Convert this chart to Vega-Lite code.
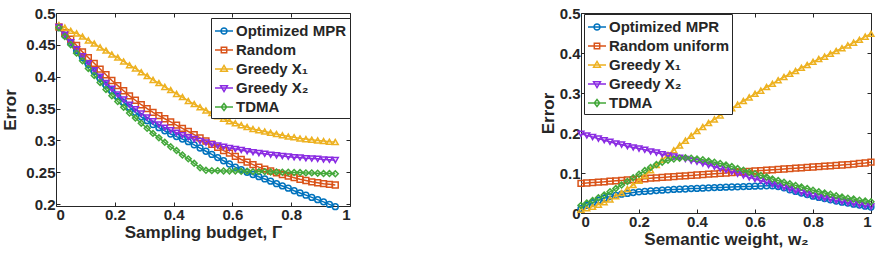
{
  "$schema": "https://vega.github.io/schema/vega-lite/v6.json",
  "padding": {"left": 1, "top": 5, "right": 0, "bottom": 0},
  "spacing": 187,
  "datasets": {
    "L": [
      {"s":"Optimized MPR","x":0.01,"y":0.477},{"s":"Optimized MPR","x":0.03,"y":0.465},{"s":"Optimized MPR","x":0.05,"y":0.453},{"s":"Optimized MPR","x":0.07,"y":0.441},{"s":"Optimized MPR","x":0.09,"y":0.430},{"s":"Optimized MPR","x":0.11,"y":0.419},{"s":"Optimized MPR","x":0.13,"y":0.408},{"s":"Optimized MPR","x":0.15,"y":0.397},{"s":"Optimized MPR","x":0.17,"y":0.387},{"s":"Optimized MPR","x":0.19,"y":0.378},{"s":"Optimized MPR","x":0.21,"y":0.369},{"s":"Optimized MPR","x":0.23,"y":0.360},{"s":"Optimized MPR","x":0.25,"y":0.352},{"s":"Optimized MPR","x":0.27,"y":0.344},{"s":"Optimized MPR","x":0.29,"y":0.337},{"s":"Optimized MPR","x":0.31,"y":0.331},{"s":"Optimized MPR","x":0.33,"y":0.325},{"s":"Optimized MPR","x":0.35,"y":0.320},{"s":"Optimized MPR","x":0.37,"y":0.315},{"s":"Optimized MPR","x":0.39,"y":0.310},{"s":"Optimized MPR","x":0.41,"y":0.306},{"s":"Optimized MPR","x":0.43,"y":0.302},{"s":"Optimized MPR","x":0.45,"y":0.298},{"s":"Optimized MPR","x":0.47,"y":0.293},{"s":"Optimized MPR","x":0.49,"y":0.288},{"s":"Optimized MPR","x":0.51,"y":0.283},{"s":"Optimized MPR","x":0.53,"y":0.278},{"s":"Optimized MPR","x":0.55,"y":0.273},{"s":"Optimized MPR","x":0.57,"y":0.268},{"s":"Optimized MPR","x":0.59,"y":0.263},{"s":"Optimized MPR","x":0.61,"y":0.258},{"s":"Optimized MPR","x":0.63,"y":0.254},{"s":"Optimized MPR","x":0.65,"y":0.250},{"s":"Optimized MPR","x":0.67,"y":0.2465},{"s":"Optimized MPR","x":0.69,"y":0.243},{"s":"Optimized MPR","x":0.71,"y":0.2395},{"s":"Optimized MPR","x":0.73,"y":0.236},{"s":"Optimized MPR","x":0.75,"y":0.232},{"s":"Optimized MPR","x":0.77,"y":0.2285},{"s":"Optimized MPR","x":0.79,"y":0.225},{"s":"Optimized MPR","x":0.81,"y":0.221},{"s":"Optimized MPR","x":0.83,"y":0.2175},{"s":"Optimized MPR","x":0.85,"y":0.214},{"s":"Optimized MPR","x":0.87,"y":0.2105},{"s":"Optimized MPR","x":0.89,"y":0.207},{"s":"Optimized MPR","x":0.91,"y":0.2035},{"s":"Optimized MPR","x":0.93,"y":0.1995},{"s":"Optimized MPR","x":0.95,"y":0.196},
      {"s":"Random","x":0.01,"y":0.478},{"s":"Random","x":0.03,"y":0.469},{"s":"Random","x":0.05,"y":0.459},{"s":"Random","x":0.07,"y":0.449},{"s":"Random","x":0.09,"y":0.439},{"s":"Random","x":0.11,"y":0.430},{"s":"Random","x":0.13,"y":0.421},{"s":"Random","x":0.15,"y":0.412},{"s":"Random","x":0.17,"y":0.403},{"s":"Random","x":0.19,"y":0.394},{"s":"Random","x":0.21,"y":0.386},{"s":"Random","x":0.23,"y":0.378},{"s":"Random","x":0.25,"y":0.370},{"s":"Random","x":0.27,"y":0.363},{"s":"Random","x":0.29,"y":0.356},{"s":"Random","x":0.31,"y":0.350},{"s":"Random","x":0.33,"y":0.344},{"s":"Random","x":0.35,"y":0.339},{"s":"Random","x":0.37,"y":0.334},{"s":"Random","x":0.39,"y":0.329},{"s":"Random","x":0.41,"y":0.324},{"s":"Random","x":0.43,"y":0.319},{"s":"Random","x":0.45,"y":0.314},{"s":"Random","x":0.47,"y":0.309},{"s":"Random","x":0.49,"y":0.304},{"s":"Random","x":0.51,"y":0.299},{"s":"Random","x":0.53,"y":0.294},{"s":"Random","x":0.55,"y":0.289},{"s":"Random","x":0.57,"y":0.284},{"s":"Random","x":0.59,"y":0.280},{"s":"Random","x":0.61,"y":0.275},{"s":"Random","x":0.63,"y":0.270},{"s":"Random","x":0.65,"y":0.266},{"s":"Random","x":0.67,"y":0.262},{"s":"Random","x":0.69,"y":0.258},{"s":"Random","x":0.71,"y":0.255},{"s":"Random","x":0.73,"y":0.252},{"s":"Random","x":0.75,"y":0.249},{"s":"Random","x":0.77,"y":0.2465},{"s":"Random","x":0.79,"y":0.244},{"s":"Random","x":0.81,"y":0.2415},{"s":"Random","x":0.83,"y":0.239},{"s":"Random","x":0.85,"y":0.237},{"s":"Random","x":0.87,"y":0.235},{"s":"Random","x":0.89,"y":0.2335},{"s":"Random","x":0.91,"y":0.232},{"s":"Random","x":0.93,"y":0.231},{"s":"Random","x":0.95,"y":0.230},
      {"s":"Greedy X₁","x":0.01,"y":0.481},{"s":"Greedy X₁","x":0.03,"y":0.477},{"s":"Greedy X₁","x":0.05,"y":0.472},{"s":"Greedy X₁","x":0.07,"y":0.468},{"s":"Greedy X₁","x":0.09,"y":0.463},{"s":"Greedy X₁","x":0.11,"y":0.457},{"s":"Greedy X₁","x":0.13,"y":0.452},{"s":"Greedy X₁","x":0.15,"y":0.446},{"s":"Greedy X₁","x":0.17,"y":0.441},{"s":"Greedy X₁","x":0.19,"y":0.435},{"s":"Greedy X₁","x":0.21,"y":0.430},{"s":"Greedy X₁","x":0.23,"y":0.424},{"s":"Greedy X₁","x":0.25,"y":0.418},{"s":"Greedy X₁","x":0.27,"y":0.413},{"s":"Greedy X₁","x":0.29,"y":0.407},{"s":"Greedy X₁","x":0.31,"y":0.401},{"s":"Greedy X₁","x":0.33,"y":0.395},{"s":"Greedy X₁","x":0.35,"y":0.390},{"s":"Greedy X₁","x":0.37,"y":0.384},{"s":"Greedy X₁","x":0.39,"y":0.379},{"s":"Greedy X₁","x":0.41,"y":0.373},{"s":"Greedy X₁","x":0.43,"y":0.368},{"s":"Greedy X₁","x":0.45,"y":0.362},{"s":"Greedy X₁","x":0.47,"y":0.357},{"s":"Greedy X₁","x":0.49,"y":0.352},{"s":"Greedy X₁","x":0.51,"y":0.347},{"s":"Greedy X₁","x":0.53,"y":0.343},{"s":"Greedy X₁","x":0.55,"y":0.338},{"s":"Greedy X₁","x":0.57,"y":0.334},{"s":"Greedy X₁","x":0.59,"y":0.330},{"s":"Greedy X₁","x":0.61,"y":0.327},{"s":"Greedy X₁","x":0.63,"y":0.324},{"s":"Greedy X₁","x":0.65,"y":0.321},{"s":"Greedy X₁","x":0.67,"y":0.318},{"s":"Greedy X₁","x":0.69,"y":0.316},{"s":"Greedy X₁","x":0.71,"y":0.314},{"s":"Greedy X₁","x":0.73,"y":0.312},{"s":"Greedy X₁","x":0.75,"y":0.310},{"s":"Greedy X₁","x":0.77,"y":0.308},{"s":"Greedy X₁","x":0.79,"y":0.306},{"s":"Greedy X₁","x":0.81,"y":0.305},{"s":"Greedy X₁","x":0.83,"y":0.303},{"s":"Greedy X₁","x":0.85,"y":0.302},{"s":"Greedy X₁","x":0.87,"y":0.301},{"s":"Greedy X₁","x":0.89,"y":0.300},{"s":"Greedy X₁","x":0.91,"y":0.299},{"s":"Greedy X₁","x":0.93,"y":0.298},{"s":"Greedy X₁","x":0.95,"y":0.2975},
      {"s":"Greedy X₂","x":0.01,"y":0.478},{"s":"Greedy X₂","x":0.03,"y":0.466},{"s":"Greedy X₂","x":0.05,"y":0.454},{"s":"Greedy X₂","x":0.07,"y":0.443},{"s":"Greedy X₂","x":0.09,"y":0.432},{"s":"Greedy X₂","x":0.11,"y":0.421},{"s":"Greedy X₂","x":0.13,"y":0.410},{"s":"Greedy X₂","x":0.15,"y":0.400},{"s":"Greedy X₂","x":0.17,"y":0.390},{"s":"Greedy X₂","x":0.19,"y":0.381},{"s":"Greedy X₂","x":0.21,"y":0.372},{"s":"Greedy X₂","x":0.23,"y":0.364},{"s":"Greedy X₂","x":0.25,"y":0.356},{"s":"Greedy X₂","x":0.27,"y":0.349},{"s":"Greedy X₂","x":0.29,"y":0.342},{"s":"Greedy X₂","x":0.31,"y":0.336},{"s":"Greedy X₂","x":0.33,"y":0.330},{"s":"Greedy X₂","x":0.35,"y":0.325},{"s":"Greedy X₂","x":0.37,"y":0.320},{"s":"Greedy X₂","x":0.39,"y":0.316},{"s":"Greedy X₂","x":0.41,"y":0.312},{"s":"Greedy X₂","x":0.43,"y":0.308},{"s":"Greedy X₂","x":0.45,"y":0.305},{"s":"Greedy X₂","x":0.47,"y":0.302},{"s":"Greedy X₂","x":0.49,"y":0.299},{"s":"Greedy X₂","x":0.51,"y":0.2965},{"s":"Greedy X₂","x":0.53,"y":0.294},{"s":"Greedy X₂","x":0.55,"y":0.292},{"s":"Greedy X₂","x":0.57,"y":0.290},{"s":"Greedy X₂","x":0.59,"y":0.288},{"s":"Greedy X₂","x":0.61,"y":0.2865},{"s":"Greedy X₂","x":0.63,"y":0.285},{"s":"Greedy X₂","x":0.65,"y":0.283},{"s":"Greedy X₂","x":0.67,"y":0.2815},{"s":"Greedy X₂","x":0.69,"y":0.280},{"s":"Greedy X₂","x":0.71,"y":0.279},{"s":"Greedy X₂","x":0.73,"y":0.2775},{"s":"Greedy X₂","x":0.75,"y":0.2765},{"s":"Greedy X₂","x":0.77,"y":0.2755},{"s":"Greedy X₂","x":0.79,"y":0.2745},{"s":"Greedy X₂","x":0.81,"y":0.2735},{"s":"Greedy X₂","x":0.83,"y":0.273},{"s":"Greedy X₂","x":0.85,"y":0.272},{"s":"Greedy X₂","x":0.87,"y":0.2715},{"s":"Greedy X₂","x":0.89,"y":0.271},{"s":"Greedy X₂","x":0.91,"y":0.270},{"s":"Greedy X₂","x":0.93,"y":0.2695},{"s":"Greedy X₂","x":0.95,"y":0.269},
      {"s":"TDMA","x":0.01,"y":0.477},{"s":"TDMA","x":0.03,"y":0.463},{"s":"TDMA","x":0.05,"y":0.450},{"s":"TDMA","x":0.07,"y":0.437},{"s":"TDMA","x":0.09,"y":0.425},{"s":"TDMA","x":0.11,"y":0.413},{"s":"TDMA","x":0.13,"y":0.402},{"s":"TDMA","x":0.15,"y":0.391},{"s":"TDMA","x":0.17,"y":0.380},{"s":"TDMA","x":0.19,"y":0.370},{"s":"TDMA","x":0.21,"y":0.361},{"s":"TDMA","x":0.23,"y":0.352},{"s":"TDMA","x":0.25,"y":0.343},{"s":"TDMA","x":0.27,"y":0.335},{"s":"TDMA","x":0.29,"y":0.327},{"s":"TDMA","x":0.31,"y":0.319},{"s":"TDMA","x":0.33,"y":0.311},{"s":"TDMA","x":0.35,"y":0.304},{"s":"TDMA","x":0.37,"y":0.297},{"s":"TDMA","x":0.39,"y":0.290},{"s":"TDMA","x":0.41,"y":0.284},{"s":"TDMA","x":0.43,"y":0.277},{"s":"TDMA","x":0.45,"y":0.271},{"s":"TDMA","x":0.47,"y":0.264},{"s":"TDMA","x":0.49,"y":0.257},{"s":"TDMA","x":0.51,"y":0.253},{"s":"TDMA","x":0.53,"y":0.2525},{"s":"TDMA","x":0.55,"y":0.2525},{"s":"TDMA","x":0.57,"y":0.252},{"s":"TDMA","x":0.59,"y":0.252},{"s":"TDMA","x":0.61,"y":0.252},{"s":"TDMA","x":0.63,"y":0.2515},{"s":"TDMA","x":0.65,"y":0.2515},{"s":"TDMA","x":0.67,"y":0.251},{"s":"TDMA","x":0.69,"y":0.251},{"s":"TDMA","x":0.71,"y":0.251},{"s":"TDMA","x":0.73,"y":0.2505},{"s":"TDMA","x":0.75,"y":0.2505},{"s":"TDMA","x":0.77,"y":0.250},{"s":"TDMA","x":0.79,"y":0.250},{"s":"TDMA","x":0.81,"y":0.2495},{"s":"TDMA","x":0.83,"y":0.2495},{"s":"TDMA","x":0.85,"y":0.249},{"s":"TDMA","x":0.87,"y":0.249},{"s":"TDMA","x":0.89,"y":0.2485},{"s":"TDMA","x":0.91,"y":0.248},{"s":"TDMA","x":0.93,"y":0.248},{"s":"TDMA","x":0.95,"y":0.2475}
    ],
    "R": [
      {"s":"Optimized MPR","x":0,"y":0.011},{"s":"Optimized MPR","x":0.02,"y":0.019},{"s":"Optimized MPR","x":0.04,"y":0.026},{"s":"Optimized MPR","x":0.06,"y":0.032},{"s":"Optimized MPR","x":0.08,"y":0.037},{"s":"Optimized MPR","x":0.1,"y":0.041},{"s":"Optimized MPR","x":0.12,"y":0.044},{"s":"Optimized MPR","x":0.14,"y":0.047},{"s":"Optimized MPR","x":0.16,"y":0.049},{"s":"Optimized MPR","x":0.18,"y":0.051},{"s":"Optimized MPR","x":0.2,"y":0.053},{"s":"Optimized MPR","x":0.22,"y":0.054},{"s":"Optimized MPR","x":0.24,"y":0.055},{"s":"Optimized MPR","x":0.26,"y":0.056},{"s":"Optimized MPR","x":0.28,"y":0.057},{"s":"Optimized MPR","x":0.3,"y":0.058},{"s":"Optimized MPR","x":0.32,"y":0.059},{"s":"Optimized MPR","x":0.34,"y":0.0595},{"s":"Optimized MPR","x":0.36,"y":0.060},{"s":"Optimized MPR","x":0.38,"y":0.061},{"s":"Optimized MPR","x":0.4,"y":0.0615},{"s":"Optimized MPR","x":0.42,"y":0.062},{"s":"Optimized MPR","x":0.44,"y":0.063},{"s":"Optimized MPR","x":0.46,"y":0.0635},{"s":"Optimized MPR","x":0.48,"y":0.064},{"s":"Optimized MPR","x":0.5,"y":0.0645},{"s":"Optimized MPR","x":0.52,"y":0.065},{"s":"Optimized MPR","x":0.54,"y":0.0655},{"s":"Optimized MPR","x":0.56,"y":0.066},{"s":"Optimized MPR","x":0.58,"y":0.0665},{"s":"Optimized MPR","x":0.6,"y":0.067},{"s":"Optimized MPR","x":0.62,"y":0.0675},{"s":"Optimized MPR","x":0.64,"y":0.068},{"s":"Optimized MPR","x":0.66,"y":0.068},{"s":"Optimized MPR","x":0.68,"y":0.066},{"s":"Optimized MPR","x":0.7,"y":0.063},{"s":"Optimized MPR","x":0.72,"y":0.058},{"s":"Optimized MPR","x":0.74,"y":0.054},{"s":"Optimized MPR","x":0.76,"y":0.050},{"s":"Optimized MPR","x":0.78,"y":0.046},{"s":"Optimized MPR","x":0.8,"y":0.042},{"s":"Optimized MPR","x":0.82,"y":0.039},{"s":"Optimized MPR","x":0.84,"y":0.036},{"s":"Optimized MPR","x":0.86,"y":0.033},{"s":"Optimized MPR","x":0.88,"y":0.030},{"s":"Optimized MPR","x":0.9,"y":0.027},{"s":"Optimized MPR","x":0.92,"y":0.025},{"s":"Optimized MPR","x":0.94,"y":0.022},{"s":"Optimized MPR","x":0.96,"y":0.020},{"s":"Optimized MPR","x":0.98,"y":0.017},{"s":"Optimized MPR","x":1,"y":0.015},
      {"s":"Random uniform","x":0,"y":0.074},{"s":"Random uniform","x":0.02,"y":0.075},{"s":"Random uniform","x":0.04,"y":0.076},{"s":"Random uniform","x":0.06,"y":0.077},{"s":"Random uniform","x":0.08,"y":0.078},{"s":"Random uniform","x":0.1,"y":0.0795},{"s":"Random uniform","x":0.12,"y":0.0805},{"s":"Random uniform","x":0.14,"y":0.0815},{"s":"Random uniform","x":0.16,"y":0.0825},{"s":"Random uniform","x":0.18,"y":0.0835},{"s":"Random uniform","x":0.2,"y":0.0845},{"s":"Random uniform","x":0.22,"y":0.0855},{"s":"Random uniform","x":0.24,"y":0.087},{"s":"Random uniform","x":0.26,"y":0.088},{"s":"Random uniform","x":0.28,"y":0.089},{"s":"Random uniform","x":0.3,"y":0.090},{"s":"Random uniform","x":0.32,"y":0.091},{"s":"Random uniform","x":0.34,"y":0.092},{"s":"Random uniform","x":0.36,"y":0.093},{"s":"Random uniform","x":0.38,"y":0.094},{"s":"Random uniform","x":0.4,"y":0.095},{"s":"Random uniform","x":0.42,"y":0.096},{"s":"Random uniform","x":0.44,"y":0.097},{"s":"Random uniform","x":0.46,"y":0.098},{"s":"Random uniform","x":0.48,"y":0.099},{"s":"Random uniform","x":0.5,"y":0.100},{"s":"Random uniform","x":0.52,"y":0.101},{"s":"Random uniform","x":0.54,"y":0.102},{"s":"Random uniform","x":0.56,"y":0.103},{"s":"Random uniform","x":0.58,"y":0.104},{"s":"Random uniform","x":0.6,"y":0.105},{"s":"Random uniform","x":0.62,"y":0.106},{"s":"Random uniform","x":0.64,"y":0.107},{"s":"Random uniform","x":0.66,"y":0.108},{"s":"Random uniform","x":0.68,"y":0.109},{"s":"Random uniform","x":0.7,"y":0.110},{"s":"Random uniform","x":0.72,"y":0.111},{"s":"Random uniform","x":0.74,"y":0.112},{"s":"Random uniform","x":0.76,"y":0.113},{"s":"Random uniform","x":0.78,"y":0.114},{"s":"Random uniform","x":0.8,"y":0.115},{"s":"Random uniform","x":0.82,"y":0.116},{"s":"Random uniform","x":0.84,"y":0.117},{"s":"Random uniform","x":0.86,"y":0.118},{"s":"Random uniform","x":0.88,"y":0.119},{"s":"Random uniform","x":0.9,"y":0.120},{"s":"Random uniform","x":0.92,"y":0.121},{"s":"Random uniform","x":0.94,"y":0.122},{"s":"Random uniform","x":0.96,"y":0.124},{"s":"Random uniform","x":0.98,"y":0.125},{"s":"Random uniform","x":1,"y":0.127},
      {"s":"Greedy X₁","x":0,"y":0.008},{"s":"Greedy X₁","x":0.02,"y":0.012},{"s":"Greedy X₁","x":0.04,"y":0.016},{"s":"Greedy X₁","x":0.06,"y":0.021},{"s":"Greedy X₁","x":0.08,"y":0.027},{"s":"Greedy X₁","x":0.1,"y":0.034},{"s":"Greedy X₁","x":0.12,"y":0.042},{"s":"Greedy X₁","x":0.14,"y":0.050},{"s":"Greedy X₁","x":0.16,"y":0.060},{"s":"Greedy X₁","x":0.18,"y":0.070},{"s":"Greedy X₁","x":0.2,"y":0.081},{"s":"Greedy X₁","x":0.22,"y":0.094},{"s":"Greedy X₁","x":0.24,"y":0.107},{"s":"Greedy X₁","x":0.26,"y":0.120},{"s":"Greedy X₁","x":0.28,"y":0.133},{"s":"Greedy X₁","x":0.3,"y":0.145},{"s":"Greedy X₁","x":0.32,"y":0.157},{"s":"Greedy X₁","x":0.34,"y":0.169},{"s":"Greedy X₁","x":0.36,"y":0.181},{"s":"Greedy X₁","x":0.38,"y":0.193},{"s":"Greedy X₁","x":0.4,"y":0.205},{"s":"Greedy X₁","x":0.42,"y":0.215},{"s":"Greedy X₁","x":0.44,"y":0.225},{"s":"Greedy X₁","x":0.46,"y":0.234},{"s":"Greedy X₁","x":0.48,"y":0.244},{"s":"Greedy X₁","x":0.5,"y":0.253},{"s":"Greedy X₁","x":0.52,"y":0.262},{"s":"Greedy X₁","x":0.54,"y":0.271},{"s":"Greedy X₁","x":0.56,"y":0.280},{"s":"Greedy X₁","x":0.58,"y":0.289},{"s":"Greedy X₁","x":0.6,"y":0.298},{"s":"Greedy X₁","x":0.62,"y":0.306},{"s":"Greedy X₁","x":0.64,"y":0.315},{"s":"Greedy X₁","x":0.66,"y":0.323},{"s":"Greedy X₁","x":0.68,"y":0.332},{"s":"Greedy X₁","x":0.7,"y":0.340},{"s":"Greedy X₁","x":0.72,"y":0.348},{"s":"Greedy X₁","x":0.74,"y":0.355},{"s":"Greedy X₁","x":0.76,"y":0.363},{"s":"Greedy X₁","x":0.78,"y":0.370},{"s":"Greedy X₁","x":0.8,"y":0.378},{"s":"Greedy X₁","x":0.82,"y":0.385},{"s":"Greedy X₁","x":0.84,"y":0.391},{"s":"Greedy X₁","x":0.86,"y":0.398},{"s":"Greedy X₁","x":0.88,"y":0.405},{"s":"Greedy X₁","x":0.9,"y":0.412},{"s":"Greedy X₁","x":0.92,"y":0.419},{"s":"Greedy X₁","x":0.94,"y":0.426},{"s":"Greedy X₁","x":0.96,"y":0.433},{"s":"Greedy X₁","x":0.98,"y":0.441},{"s":"Greedy X₁","x":1,"y":0.448},
      {"s":"Greedy X₂","x":0,"y":0.198},{"s":"Greedy X₂","x":0.02,"y":0.194},{"s":"Greedy X₂","x":0.04,"y":0.190},{"s":"Greedy X₂","x":0.06,"y":0.186},{"s":"Greedy X₂","x":0.08,"y":0.182},{"s":"Greedy X₂","x":0.1,"y":0.178},{"s":"Greedy X₂","x":0.12,"y":0.174},{"s":"Greedy X₂","x":0.14,"y":0.171},{"s":"Greedy X₂","x":0.16,"y":0.167},{"s":"Greedy X₂","x":0.18,"y":0.164},{"s":"Greedy X₂","x":0.2,"y":0.161},{"s":"Greedy X₂","x":0.22,"y":0.158},{"s":"Greedy X₂","x":0.24,"y":0.154},{"s":"Greedy X₂","x":0.26,"y":0.151},{"s":"Greedy X₂","x":0.28,"y":0.147},{"s":"Greedy X₂","x":0.3,"y":0.144},{"s":"Greedy X₂","x":0.32,"y":0.141},{"s":"Greedy X₂","x":0.34,"y":0.138},{"s":"Greedy X₂","x":0.36,"y":0.135},{"s":"Greedy X₂","x":0.38,"y":0.131},{"s":"Greedy X₂","x":0.4,"y":0.128},{"s":"Greedy X₂","x":0.42,"y":0.124},{"s":"Greedy X₂","x":0.44,"y":0.120},{"s":"Greedy X₂","x":0.46,"y":0.116},{"s":"Greedy X₂","x":0.48,"y":0.111},{"s":"Greedy X₂","x":0.5,"y":0.107},{"s":"Greedy X₂","x":0.52,"y":0.103},{"s":"Greedy X₂","x":0.54,"y":0.098},{"s":"Greedy X₂","x":0.56,"y":0.094},{"s":"Greedy X₂","x":0.58,"y":0.089},{"s":"Greedy X₂","x":0.6,"y":0.085},{"s":"Greedy X₂","x":0.62,"y":0.081},{"s":"Greedy X₂","x":0.64,"y":0.077},{"s":"Greedy X₂","x":0.66,"y":0.072},{"s":"Greedy X₂","x":0.68,"y":0.068},{"s":"Greedy X₂","x":0.7,"y":0.064},{"s":"Greedy X₂","x":0.72,"y":0.060},{"s":"Greedy X₂","x":0.74,"y":0.055},{"s":"Greedy X₂","x":0.76,"y":0.051},{"s":"Greedy X₂","x":0.78,"y":0.047},{"s":"Greedy X₂","x":0.8,"y":0.043},{"s":"Greedy X₂","x":0.82,"y":0.040},{"s":"Greedy X₂","x":0.84,"y":0.037},{"s":"Greedy X₂","x":0.86,"y":0.034},{"s":"Greedy X₂","x":0.88,"y":0.031},{"s":"Greedy X₂","x":0.9,"y":0.028},{"s":"Greedy X₂","x":0.92,"y":0.026},{"s":"Greedy X₂","x":0.94,"y":0.023},{"s":"Greedy X₂","x":0.96,"y":0.021},{"s":"Greedy X₂","x":0.98,"y":0.018},{"s":"Greedy X₂","x":1,"y":0.016},
      {"s":"TDMA","x":0,"y":0.019},{"s":"TDMA","x":0.02,"y":0.025},{"s":"TDMA","x":0.04,"y":0.031},{"s":"TDMA","x":0.06,"y":0.038},{"s":"TDMA","x":0.08,"y":0.045},{"s":"TDMA","x":0.1,"y":0.053},{"s":"TDMA","x":0.12,"y":0.061},{"s":"TDMA","x":0.14,"y":0.070},{"s":"TDMA","x":0.16,"y":0.079},{"s":"TDMA","x":0.18,"y":0.088},{"s":"TDMA","x":0.2,"y":0.097},{"s":"TDMA","x":0.22,"y":0.106},{"s":"TDMA","x":0.24,"y":0.114},{"s":"TDMA","x":0.26,"y":0.121},{"s":"TDMA","x":0.28,"y":0.127},{"s":"TDMA","x":0.3,"y":0.132},{"s":"TDMA","x":0.32,"y":0.135},{"s":"TDMA","x":0.34,"y":0.137},{"s":"TDMA","x":0.36,"y":0.138},{"s":"TDMA","x":0.38,"y":0.137},{"s":"TDMA","x":0.4,"y":0.135},{"s":"TDMA","x":0.42,"y":0.133},{"s":"TDMA","x":0.44,"y":0.130},{"s":"TDMA","x":0.46,"y":0.127},{"s":"TDMA","x":0.48,"y":0.124},{"s":"TDMA","x":0.5,"y":0.120},{"s":"TDMA","x":0.52,"y":0.116},{"s":"TDMA","x":0.54,"y":0.111},{"s":"TDMA","x":0.56,"y":0.107},{"s":"TDMA","x":0.58,"y":0.102},{"s":"TDMA","x":0.6,"y":0.098},{"s":"TDMA","x":0.62,"y":0.094},{"s":"TDMA","x":0.64,"y":0.090},{"s":"TDMA","x":0.66,"y":0.085},{"s":"TDMA","x":0.68,"y":0.081},{"s":"TDMA","x":0.7,"y":0.077},{"s":"TDMA","x":0.72,"y":0.073},{"s":"TDMA","x":0.74,"y":0.069},{"s":"TDMA","x":0.76,"y":0.065},{"s":"TDMA","x":0.78,"y":0.061},{"s":"TDMA","x":0.8,"y":0.057},{"s":"TDMA","x":0.82,"y":0.053},{"s":"TDMA","x":0.84,"y":0.050},{"s":"TDMA","x":0.86,"y":0.047},{"s":"TDMA","x":0.88,"y":0.043},{"s":"TDMA","x":0.9,"y":0.040},{"s":"TDMA","x":0.92,"y":0.037},{"s":"TDMA","x":0.94,"y":0.035},{"s":"TDMA","x":0.96,"y":0.032},{"s":"TDMA","x":0.98,"y":0.030},{"s":"TDMA","x":1,"y":0.028}
    ]
  },
  "hconcat": [
    {
      "width": 294,
      "height": 193,
      "data": {"name": "L"},
      "encoding": {
        "x": {"field": "x", "type": "quantitative", "scale": {"domain": [0, 1], "nice": false}},
        "y": {"field": "y", "type": "quantitative", "scale": {"domain": [0.197, 0.5], "nice": false, "zero": false}}
      },
      "layer": [
        {
          "mark": {"type": "line", "strokeWidth": 1.5, "clip": true},
          "encoding": {
            "x": {"field": "x", "type": "quantitative", "axis": {"orient": "bottom", "values": [0, 0.2, 0.4, 0.6, 0.8, 1], "format": "~g", "title": "Sampling budget, Γ", "titlePadding": 2}},
            "y": {"field": "y", "type": "quantitative", "axis": {"orient": "left", "values": [0.2, 0.25, 0.3, 0.35, 0.4, 0.45, 0.5], "format": "~g", "title": "Error", "titlePadding": 6}},
            "color": {"field": "s", "type": "nominal", "scale": {"domain": ["Optimized MPR", "Random", "Greedy X₁", "Greedy X₂", "TDMA"], "range": ["#0072BD", "#D95319", "#EDB120", "#8A2BE2", "#43A83A"]}, "legend": null}
          }
        },
        {
          "mark": {"type": "point", "filled": false, "size": 34, "strokeWidth": 1.5, "opacity": 1},
          "encoding": {
            "x": {"field": "x", "type": "quantitative", "axis": {"orient": "top", "values": [0, 0.2, 0.4, 0.6, 0.8, 1], "labels": false, "title": null}},
            "y": {"field": "y", "type": "quantitative", "axis": {"orient": "right", "values": [0.2, 0.25, 0.3, 0.35, 0.4, 0.45, 0.5], "labels": false, "title": null}},
            "color": {"field": "s", "type": "nominal", "scale": {"domain": ["Optimized MPR", "Random", "Greedy X₁", "Greedy X₂", "TDMA"], "range": ["#0072BD", "#D95319", "#EDB120", "#8A2BE2", "#43A83A"]}, "legend": null},
            "shape": {"field": "s", "type": "nominal", "scale": {"domain": ["Optimized MPR", "Random", "Greedy X₁", "Greedy X₂", "TDMA"], "range": ["circle", "square", "triangle-up", "triangle-down", "diamond"]}, "legend": null}
          }
        },
        {
          "mark": {"type": "point", "filled": false, "opacity": 0},
          "encoding": {
            "x": {"field": "x", "type": "quantitative", "axis": null},
            "y": {"field": "y", "type": "quantitative", "axis": null},
            "color": {"field": "s", "type": "nominal", "scale": {"domain": ["Optimized MPR", "Random", "Greedy X₁", "Greedy X₂", "TDMA"], "range": ["#0072BD", "#D95319", "#EDB120", "#8A2BE2", "#43A83A"]},
              "legend": {"orient": "none", "legendX": 155, "legendY": 5, "title": null, "padding": 3, "rowPadding": 1, "labelOffset": 2, "symbolSize": 324, "symbolStrokeWidth": 1.5, "symbolOpacity": 1}},
            "shape": {"field": "s", "type": "nominal", "scale": {"domain": ["Optimized MPR", "Random", "Greedy X₁", "Greedy X₂", "TDMA"], "range": ["M-1,0H1M0.33,0A0.33,0.33,0,1,1,-0.33,0A0.33,0.33,0,1,1,0.33,0Z", "M-1,0H1M-0.3,-0.3H0.3V0.3H-0.3Z", "M-1,0H1M0,-0.4L0.38,0.26L-0.38,0.26Z", "M-1,0H1M0,0.4L0.38,-0.26L-0.38,-0.26Z", "M-1,0H1M0,-0.38L0.3,0L0,0.38L-0.3,0Z"]},
              "legend": {"orient": "none", "legendX": 155, "legendY": 5, "title": null, "padding": 3, "rowPadding": 1, "labelOffset": 2, "symbolSize": 324, "symbolStrokeWidth": 1.5, "symbolOpacity": 1}}
          }
        }
      ],
      "resolve": {"axis": {"x": "independent", "y": "independent"}, "scale": {"color": "independent", "shape": "independent"}, "legend": {"color": "independent", "shape": "independent"}}
    },
    {
      "width": 290,
      "height": 200,
      "data": {"name": "R"},
      "encoding": {
        "x": {"field": "x", "type": "quantitative", "scale": {"domain": [0, 1], "nice": false}},
        "y": {"field": "y", "type": "quantitative", "scale": {"domain": [0, 0.5], "nice": false}}
      },
      "layer": [
        {
          "mark": {"type": "line", "strokeWidth": 1.5, "clip": true},
          "encoding": {
            "x": {"field": "x", "type": "quantitative", "axis": {"orient": "bottom", "values": [0, 0.2, 0.4, 0.6, 0.8, 1], "format": "~g", "title": "Semantic weight, w₂", "titlePadding": 2}},
            "y": {"field": "y", "type": "quantitative", "axis": {"orient": "left", "values": [0, 0.1, 0.2, 0.3, 0.4, 0.5], "format": "~g", "title": "Error", "titlePadding": 2}},
            "color": {"field": "s", "type": "nominal", "scale": {"domain": ["Optimized MPR", "Random uniform", "Greedy X₁", "Greedy X₂", "TDMA"], "range": ["#0072BD", "#D95319", "#EDB120", "#8A2BE2", "#43A83A"]}, "legend": null}
          }
        },
        {
          "mark": {"type": "point", "filled": false, "size": 34, "strokeWidth": 1.5, "opacity": 1},
          "encoding": {
            "x": {"field": "x", "type": "quantitative", "axis": {"orient": "top", "values": [0, 0.2, 0.4, 0.6, 0.8, 1], "labels": false, "title": null}},
            "y": {"field": "y", "type": "quantitative", "axis": {"orient": "right", "values": [0, 0.1, 0.2, 0.3, 0.4, 0.5], "labels": false, "title": null}},
            "color": {"field": "s", "type": "nominal", "scale": {"domain": ["Optimized MPR", "Random uniform", "Greedy X₁", "Greedy X₂", "TDMA"], "range": ["#0072BD", "#D95319", "#EDB120", "#8A2BE2", "#43A83A"]}, "legend": null},
            "shape": {"field": "s", "type": "nominal", "scale": {"domain": ["Optimized MPR", "Random uniform", "Greedy X₁", "Greedy X₂", "TDMA"], "range": ["circle", "square", "triangle-up", "triangle-down", "diamond"]}, "legend": null}
          }
        },
        {
          "mark": {"type": "point", "filled": false, "opacity": 0},
          "encoding": {
            "x": {"field": "x", "type": "quantitative", "axis": null},
            "y": {"field": "y", "type": "quantitative", "axis": null},
            "color": {"field": "s", "type": "nominal", "scale": {"domain": ["Optimized MPR", "Random uniform", "Greedy X₁", "Greedy X₂", "TDMA"], "range": ["#0072BD", "#D95319", "#EDB120", "#8A2BE2", "#43A83A"]},
              "legend": {"orient": "none", "legendX": 3, "legendY": 1, "title": null, "padding": 3, "rowPadding": 1, "labelOffset": 2, "symbolSize": 324, "symbolStrokeWidth": 1.5, "symbolOpacity": 1}},
            "shape": {"field": "s", "type": "nominal", "scale": {"domain": ["Optimized MPR", "Random uniform", "Greedy X₁", "Greedy X₂", "TDMA"], "range": ["M-1,0H1M0.33,0A0.33,0.33,0,1,1,-0.33,0A0.33,0.33,0,1,1,0.33,0Z", "M-1,0H1M-0.3,-0.3H0.3V0.3H-0.3Z", "M-1,0H1M0,-0.4L0.38,0.26L-0.38,0.26Z", "M-1,0H1M0,0.4L0.38,-0.26L-0.38,-0.26Z", "M-1,0H1M0,-0.38L0.3,0L0,0.38L-0.3,0Z"]},
              "legend": {"orient": "none", "legendX": 3, "legendY": 1, "title": null, "padding": 3, "rowPadding": 1, "labelOffset": 2, "symbolSize": 324, "symbolStrokeWidth": 1.5, "symbolOpacity": 1}}
          }
        }
      ],
      "resolve": {"axis": {"x": "independent", "y": "independent"}, "scale": {"color": "independent", "shape": "independent"}, "legend": {"color": "independent", "shape": "independent"}}
    }
  ],
  "resolve": {"scale": {"color": "independent", "shape": "independent"}, "legend": {"color": "independent", "shape": "independent"}},
  "config": {
    "font": "Liberation Sans",
    "view": {"stroke": "#262626", "strokeWidth": 1},
    "axis": {
      "grid": false, "domain": false,
      "tickSize": -4, "tickColor": "#262626", "tickWidth": 1,
      "labelFont": "Liberation Sans", "labelFontSize": 15, "labelFontWeight": "bold", "labelColor": "#262626", "labelPadding": 5,
      "titleFont": "Liberation Sans", "titleFontSize": 17, "titleFontWeight": "bold", "titleColor": "#262626"
    },
    "legend": {
      "labelFont": "Liberation Sans", "labelFontSize": 15, "labelFontWeight": "bold", "labelColor": "#262626",
      "strokeColor": "#262626", "fillColor": "white", "labelLimit": 300
    }
  }
}
